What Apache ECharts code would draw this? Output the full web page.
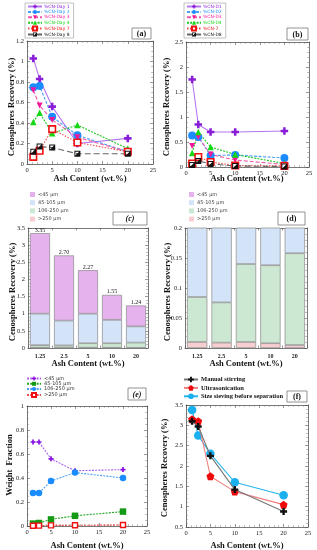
<!DOCTYPE html>
<html><head><meta charset="utf-8">
<script src="https://cdn.jsdelivr.net/npm/echarts@6/dist/echarts.min.js"></script>
<style>html,body{margin:0;padding:0;background:#fff}#c{width:317px;height:550px}</style>
</head><body><div id="c"></div>
<script>
// ---------- DATA ----------
const ashX = [1.25, 2.5, 5, 10, 20];
const ashCats = ['1.25', '2.5', '5', '10', '20'];

// (a)
const aNames = ['%CN-Day 1', '%CN-Day 2', '%CN-Day 3', '%CN-Day 4', '%CN-Day 7', '%CN-Day 8'];
const aDay1 = [1.03, 0.83, 0.56, 0.20, 0.25];
const aDay2 = [0.75, 0.76, 0.46, 0.28, 0.12];
const aDay3 = [0.72, 0.57, 0.43, 0.26, 0.12];
const aDay4 = [0.41, 0.50, 0.30, 0.38, 0.15];
const aDay7 = [0.07, 0.13, 0.34, 0.21, 0.12];
const aDay8 = [0.12, 0.17, 0.16, 0.10, 0.10];

// (b)
const bNames = ['%CN-D1', '%CN-D2', '%CN-D3', '%CN-D4', '%CN-7', '%CN-D8'];
const bD1 = [1.75, 0.85, 0.70, 0.70, 0.72];
const bD2 = [0.63, 0.60, 0.23, 0.24, 0.18];
const bD3 = [0.42, 0.60, 0.25, 0.14, 0.05];
const bD4 = [0.28, 0.70, 0.40, 0.25, 0.07];
const bD7 = [0.07, 0.20, 0.10, 0.03, 0.02];
const bD8 = [0.04, 0.12, 0.06, 0.02, 0.01];

// (c)/(d) stacked size fractions
const sizeNames = ['<45 µm', '45-105 µm', '106-250 µm', '>250 µm'];
const cLt45 = [2.35, 1.90, 1.27, 0.73, 0.61];
const c45to105 = [0.915, 0.724, 0.86, 0.682, 0.472];
const c106to250 = [0.075, 0.067, 0.13, 0.13, 0.153];
const cGt250 = [0.010, 0.009, 0.010, 0.008, 0.005];
const cTotals = [3.35, 2.70, 2.27, 1.55, 1.24];

// (e) weight fraction
const eLt45 = [0.70, 0.70, 0.56, 0.46, 0.47];
const e45to105 = [0.020, 0.025, 0.055, 0.085, 0.12];
const e106to250 = [0.275, 0.275, 0.375, 0.445, 0.40];
const eGt250 = [0.002, 0.003, 0.005, 0.006, 0.008];

// (f)
const fNames = ['Manual stirring', 'Ultrasonication', 'Size sieving before separation'];
const fManual = [3.10, 2.97, 2.25, 1.42, 0.88];
const fUltra = [3.15, 3.10, 1.75, 1.37, 1.05];
const fSieve = [3.38, 2.75, 2.30, 1.60, 1.28];

// ---------- STYLE HELPERS ----------
const SERIF = 'Liberation Serif';
const AX = '#555';
const CROSS = 'path://M3.3,0H6.7V3.3H10V6.7H6.7V10H3.3V6.7H0V3.3H3.3Z';
const HALF = 'path://M0,0H10V10H0Z M1.6,1.6V8L8,1.6Z';
const PENT = 'path://M5,0L10,3.8L8.1,10H1.9L0,3.8Z';
const TRI_DOWN = 'path://M0,0H10L5,9Z';

const grids = [
  {left: 27, top: 41, width: 126, height: 123},
  {left: 186, top: 42, width: 123, height: 125},
  {left: 28, top: 228, width: 120, height: 120},
  {left: 185, top: 228, width: 122, height: 120},
  {left: 27, top: 406, width: 120, height: 120},
  {left: 186, top: 405, width: 122, height: 122}
].map(g => Object.assign({outerBoundsMode: 'none', containLabel: false}, g));

function valAxis(pos, gi, min, max, interval, minorSplit, showLabel) {
  return {
    type: 'value', gridIndex: gi, position: pos, min: min, max: max, interval: interval,
    axisLine: {show: true, onZero: false, lineStyle: {color: AX, width: 0.8}},
    axisTick: {show: true, inside: true, length: 3, lineStyle: {color: AX, width: 0.6}},
    minorTick: {show: true, splitNumber: minorSplit, length: 1.8, lineStyle: {color: '#777', width: 0.5}},
    splitLine: {show: false},
    axisLabel: {show: showLabel, fontSize: 6.5, color: '#222', fontFamily: SERIF, margin: 3}
  };
}
function catAxis(pos, gi, showLabel) {
  return {
    type: 'category', gridIndex: gi, position: pos, data: ashCats,
    axisLine: {show: true, onZero: false, lineStyle: {color: AX, width: 0.8}},
    axisTick: {show: true, inside: true, length: 2.5, lineStyle: {color: AX, width: 0.6}},
    splitLine: {show: false},
    axisLabel: {show: showLabel, fontSize: 6, color: '#222', fontFamily: SERIF, fontWeight: 'bold', margin: 5}
  };
}

const xAxes = [], yAxes = [];
// (a)
xAxes.push(valAxis('bottom', 0, 0, 25, 5, 5, true), valAxis('top', 0, 0, 25, 5, 5, false));
yAxes.push(valAxis('left', 0, 0, 1.2, 0.2, 4, true), valAxis('right', 0, 0, 1.2, 0.2, 4, false));
// (b)
xAxes.push(valAxis('bottom', 1, 0, 25, 5, 5, true), valAxis('top', 1, 0, 25, 5, 5, false));
yAxes.push(valAxis('left', 1, 0, 2.5, 0.5, 5, true), valAxis('right', 1, 0, 2.5, 0.5, 5, false));
// (c)
xAxes.push(catAxis('bottom', 2, true), catAxis('top', 2, false));
yAxes.push(valAxis('left', 2, 0, 3.5, 0.5, 5, true), valAxis('right', 2, 0, 3.5, 0.5, 5, false));
// (d)
xAxes.push(catAxis('bottom', 3, true), catAxis('top', 3, false));
yAxes.push(valAxis('left', 3, 0, 0.2, 0.05, 5, true), valAxis('right', 3, 0, 0.2, 0.05, 5, false));
// (e)
xAxes.push(valAxis('bottom', 4, 0, 25, 5, 5, true), valAxis('top', 4, 0, 25, 5, 5, false));
yAxes.push(valAxis('left', 4, 0, 1, 0.2, 4, true), valAxis('right', 4, 0, 1, 0.2, 4, false));
// (f)
xAxes.push(valAxis('bottom', 5, 0, 25, 5, 5, true), valAxis('top', 5, 0, 25, 5, 5, false));
yAxes.push(valAxis('left', 5, 0.5, 3.5, 0.5, 5, true), valAxis('right', 5, 0.5, 3.5, 0.5, 5, false));

function pairs(ys) { return ashX.map((x, i) => [x, ys[i]]); }
function line(name, ys, gi, st) {
  return {
    type: 'line', name: name, xAxisIndex: gi * 2, yAxisIndex: gi * 2,
    data: pairs(ys), symbol: st.symbol, symbolSize: st.size,
    showSymbol: true, animation: false, z: st.z || 2,
    lineStyle: {color: st.line, width: st.lw || 1.1, type: st.dash || 'solid'},
    itemStyle: {color: st.fill || st.color, borderColor: st.color, borderWidth: st.bw || 0}
  };
}

const aStyles = [
  {color: '#8a1ed8', line: '#b575ee', symbol: CROSS, size: 7.5},
  {color: '#1a8cff', line: '#4a9ef2', symbol: 'circle', size: 8, dash: [3, 1.5]},
  {color: '#f0189a', line: '#ee5aa8', symbol: TRI_DOWN, size: 6, dash: [4, 2]},
  {color: '#14d814', line: '#20c820', symbol: 'triangle', size: 6.5, dash: [2, 1.2]},
  {color: '#f01010', line: '#f04848', symbol: 'rect', size: 6.5, fill: '#ffffff', bw: 1.6, dash: [1.5, 1.5]},
  {color: '#111111', line: '#666666', symbol: HALF, size: 6, dash: [6, 3]}
];
const aData = [aDay1, aDay2, aDay3, aDay4, aDay7, aDay8];
const bData = [bD1, bD2, bD3, bD4, bD7, bD8];

const series = [];
aData.forEach((d, i) => series.push(line(aNames[i], d, 0, aStyles[i])));
bData.forEach((d, i) => series.push(line(bNames[i], d, 1, aStyles[i])));

// bars
const barColors = ['#e6b2ee', '#d4e4f8', '#cde8d2', '#f8cfd0'];
const barData = [cLt45, c45to105, c106to250, cGt250];
[2, 3].forEach(gi => {
  for (let k = 3; k >= 0; k--) {
    const s = {
      type: 'bar', name: sizeNames[k], xAxisIndex: gi * 2, yAxisIndex: gi * 2,
      stack: 'st' + gi, data: barData[k], barCategoryGap: '17%', clip: true, animation: false,
      itemStyle: {color: barColors[k], borderColor: '#8a8a8a', borderWidth: 0.7}
    };
    if (gi === 2 && k === 0) {
      s.label = {show: true, position: 'top', distance: 0, fontSize: 6, color: '#222',
        fontFamily: SERIF, formatter: p => cTotals[p.dataIndex].toFixed(2)};
    }
    series.push(s);
  }
});

// (e)
const eStyles = [
  {color: '#8a10e0', line: '#a860ec', symbol: CROSS, size: 5, dash: [2, 1.2]},
  {color: '#159a15', line: '#28a828', symbol: 'rect', size: 6.5, dash: [2, 1.2]},
  {color: '#1a8cff', line: '#4a9ef2', symbol: 'circle', size: 6.5, dash: [2, 1.2]},
  {color: '#f01010', line: '#f04848', symbol: 'rect', size: 5, fill: '#ffffff', bw: 1.4, dash: [2, 1.2]}
];
const eData = [eLt45, e45to105, e106to250, eGt250];
const eNames = sizeNames.map(n => 'e|' + n);
eData.forEach((d, i) => series.push(line(eNames[i], d, 4, eStyles[i])));

// (f)
const fStyles = [
  {color: '#111111', line: '#777777', symbol: CROSS, size: 7, z: 4},
  {color: '#ee0a0a', line: '#f08080', symbol: PENT, size: 8, z: 3},
  {color: '#1ab0f0', line: '#22b5ee', symbol: 'circle', size: 8.5, z: 2}
];
[fManual, fUltra, fSieve].forEach((d, i) => series.push(line(fNames[i], d, 5, fStyles[i])));

// legends
const sizeLegendData = sizeNames.map((n, i) => ({name: n, itemStyle: {color: barColors[i], borderWidth: 0}}));
const legends = [
  {left: 25, top: 3, orient: 'vertical', itemWidth: 14, itemHeight: 5, itemGap: 0.4,
   padding: [1, 4, 1, 2], borderColor: '#999', borderWidth: 0.6,
   data: aNames.map((n, i) => ({name: n, textStyle: {color: aStyles[i].color}})),
   textStyle: {fontSize: 4.5, fontFamily: 'DejaVu Sans', padding: [0, 0, 0, -3]}},
  {left: 184, top: 3, orient: 'vertical', itemWidth: 14, itemHeight: 5, itemGap: 0.4,
   padding: [1, 4, 1, 2], borderColor: '#999', borderWidth: 0.6,
   data: bNames.map((n, i) => ({name: n, textStyle: {color: aStyles[i].color}})),
   textStyle: {fontSize: 4.5, fontFamily: 'DejaVu Sans', padding: [0, 0, 0, -3]}},
  {left: 30, top: 192, orient: 'vertical', icon: 'rect', itemWidth: 5, itemHeight: 5, itemGap: 3.2,
   padding: 0, data: sizeLegendData, itemStyle: {borderWidth: 0},
   textStyle: {fontSize: 5, color: '#444', fontFamily: 'DejaVu Sans', padding: [0, 0, 0, -2]}},
  {left: 189, top: 192, orient: 'vertical', icon: 'rect', itemWidth: 5, itemHeight: 5, itemGap: 3.2,
   padding: 0, data: sizeLegendData, itemStyle: {borderWidth: 0},
   textStyle: {fontSize: 5, color: '#444', fontFamily: 'DejaVu Sans', padding: [0, 0, 0, -2]}},
  {left: 26, top: 376, orient: 'vertical', itemWidth: 14, itemHeight: 5, itemGap: 0.3, padding: 0,
   data: eNames, formatter: n => n.split('|')[1],
   textStyle: {fontSize: 5, color: '#333', fontFamily: 'DejaVu Sans', padding: [0, 0, 0, -2]}},
  {left: 183, top: 376, orient: 'vertical', itemWidth: 14, itemHeight: 7, itemGap: 1.4, padding: 0,
   data: fNames, textStyle: {fontSize: 6.5, color: '#111', fontFamily: SERIF, fontWeight: 'bold', padding: [0, 0, 0, -2]}}
];

// graphic texts: axis titles and panel boxes
const G = [];
function t(x, y, text, opt) {
  G.push(Object.assign({type: 'text', x: x, y: y, silent: true,
    style: Object.assign({text: text, fill: '#111', font: 'bold 8.5px "' + SERIF + '"', align: 'center', verticalAlign: 'middle'}, opt && opt.style)}, opt && opt.el));
}
function yt(x, y, text) { t(x, y, text, {el: {rotation: Math.PI / 2}}); }
function box(x, y, w, h, label, italic) {
  G.push({type: 'rect', shape: {x: x, y: y, width: w, height: h}, silent: true,
    style: {fill: '#fff', stroke: '#666', lineWidth: 0.7}});
  t(x + w / 2, y + h / 2 + 0.5, label, {style: {font: (italic ? 'italic ' : '') + 'bold 8px "' + SERIF + '"'}});
}
t(90, 179, 'Ash Content (wt.%)');
t(247, 179, 'Ash Content (wt.%)');
t(88, 364, 'Ash Content (wt.%)');
t(246, 364, 'Ash Content (wt.%)');
t(87, 546, 'Ash Content (wt.%)');
t(247, 546, 'Ash Content (wt.%)');
yt(12, 107, 'Cenospheres Recovery (%)');
yt(167, 107, 'Cenospheres Recovery (%)');
yt(13, 292, 'Cenospheres Recovery (%)');
yt(168, 292, 'Cenospheres Recovery (%)');
yt(10, 465, 'Weight  Fraction');
yt(165, 468, 'Cenospheres Recovery (%)');
box(132, 28, 19, 11, '(a)');
box(287, 28, 21, 12, '(b)');
box(113, 212, 34, 13, '(c)', true);
box(278, 212, 27, 13, '(d)');
box(128, 388, 18, 12, '(e)', true);
box(287, 391, 20, 11, '(f)');

const chart = echarts.init(document.getElementById('c'), null, {renderer: 'canvas'});
chart.setOption({
  backgroundColor: '#fff',
  animation: false,
  grid: grids,
  xAxis: xAxes,
  yAxis: yAxes,
  legend: legends,
  series: series,
  graphic: G
});
</script>
</body></html>
